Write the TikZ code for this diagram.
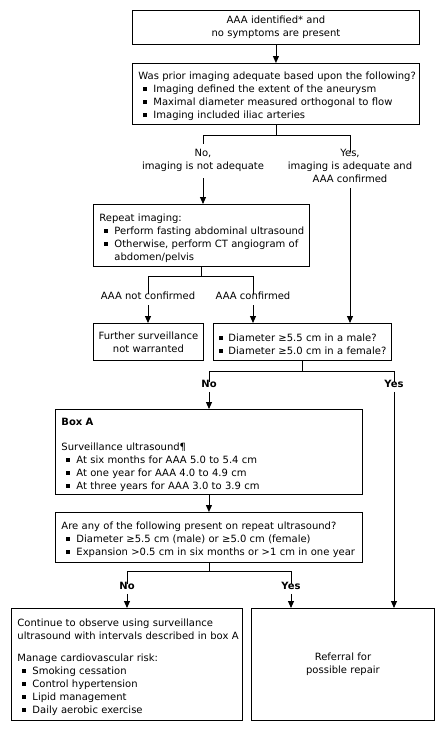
\documentclass[tikz,border=0pt]{standalone}
\usepackage{fontspec}
\setmainfont{DejaVu Sans}
\usetikzlibrary{arrows.meta}
\setlength{\parindent}{0pt}
\newcommand\ttl[1]{\par\mbox{#1}}
\newcommand\bul[1]{\par\mbox{\hspace*{5pt}\makebox[10pt][l]{\rule[1.8pt]{3.8pt}{3.8pt}}#1}}
\newcommand\bulz[1]{\par\mbox{\makebox[9pt][l]{\rule[1.8pt]{3.8pt}{3.8pt}}#1}}
\newcommand\cnt[1]{\par\mbox{\hspace*{15pt}#1}}
\begin{document}
\begin{tikzpicture}[x=1pt,y=-1pt,
 font=\fontsize{10}{13}\selectfont,
 bx/.style 2 args={draw, line width=0.9pt, anchor=north west, inner xsep=6pt, inner ysep=0pt, text width=#1, minimum height=#2, align=left},
 cbx/.style 2 args={draw, line width=0.9pt, anchor=north west, inner xsep=4pt, inner ysep=0pt, text width=#1, minimum height=#2, align=center},
 lbl/.style={inner sep=1pt, align=center},
 blbl/.style={lbl, font=\fontsize{10}{13}\selectfont\bfseries},
 con/.style={line width=0.9pt},
 arr/.style={con, -{Triangle[width=6pt,length=7pt]}}]
\path[use as bounding box, fill=white] (0,0) rectangle (445,731);

% boxes
\node[cbx={279pt}{34pt}] (b1) at (132,10) {AAA identified* and\\no symptoms are present};
\node[bx={275pt}{61pt}] (b2) at (132,63) {\ttl{Was prior imaging adequate based upon the following?}
 \bul{Imaging defined the extent of the aneurysm}
 \bul{Maximal diameter measured orthogonal to flow}
 \bul{Imaging included iliac arteries}};
\node[bx={204pt}{62pt}] (b3) at (93,204) {\ttl{Repeat imaging:}
 \bul{Perform fasting abdominal ultrasound}
 \bul{Otherwise, perform CT angiogram of}
 \cnt{abdomen/pelvis}};
\node[cbx={102pt}{37pt}] (b4) at (93,323) {Further surveillance\\not warranted};
\node[bx={166pt}{37pt}] (b5) at (213,323) {\bulz{Diameter ≥5.5 cm in a male?}
 \bulz{Diameter ≥5.0 cm in a female?}};
\node[bx={295pt}{85pt}] (bA) at (55,409) {\ttl{\textbf{Box A}}\par\vspace{12pt}
 \ttl{Surveillance ultrasound¶}
 \bul{At six months for AAA 5.0 to 5.4 cm}
 \bul{At one year for AAA 4.0 to 4.9 cm}
 \bul{At three years for AAA 3.0 to 3.9 cm}};
\node[bx={295pt}{50pt}] (b6) at (55,512) {\ttl{Are any of the following present on repeat ultrasound?}
 \bul{Diameter ≥5.5 cm (male) or ≥5.0 cm (female)}
 \bul{Expansion >0.5 cm in six months or >1 cm in one year}};
\node[bx={219pt}{112pt}] (bL) at (11,608) {\ttl{Continue to observe using surveillance}
 \ttl{ultrasound with intervals described in box A}\par\vspace{9pt}
 \ttl{Manage cardiovascular risk:}
 \bul{Smoking cessation}
 \bul{Control hypertension}
 \bul{Lipid management}
 \bul{Daily aerobic exercise}};
\node[cbx={175pt}{112pt}] (bR) at (251,608) {Referral for\\possible repair};

% labels
\node[lbl] (l1n) at (203,160) {No,\\imaging is not adequate};
\node[lbl] (l1y) at (350,166) {Yes,\\imaging is adequate and\\AAA confirmed};
\node[lbl] (l2n) at (148,296) {AAA not confirmed};
\node[lbl] (l2y) at (253,296) {AAA confirmed};
\node[blbl] (l3n) at (209,384) {No};
\node[blbl] (l3y) at (394,384) {Yes};
\node[blbl] (l4n) at (127,586) {No};
\node[blbl] (l4y) at (291,586) {Yes};

% connectors
\draw[arr] (b1.south) -- (b1.south |- b2.north);
\draw[con] (b2.south) -- ++(0,11) coordinate (j1);
\draw[con] (l1n.north) ++(0,-4) |- (j1) -| ([yshift=-4pt]l1y.north);
\draw[arr, shorten <=6pt] (l1n.south) -- (l1n.south |- b3.north);
\draw[arr, shorten <=4pt] (l1y.south) -- (l1y.south |- b5.north);

\draw[con] (b3.south) -- ++(0,10) coordinate (j2);
\draw[con] ([yshift=-3pt]l2n.north) |- (j2) -| ([yshift=-3pt]l2y.north);
\draw[arr, shorten <=4pt] (l2n.south) -- (l2n.south |- b4.north);
\draw[arr, shorten <=4pt] (l2y.south) -- (l2y.south |- b5.north);

\draw[con] (b5.south) -- ++(0,11) coordinate (j3);
\draw[con] ([yshift=-3pt]l3n.north) |- (j3) -| ([yshift=-3pt]l3y.north);
\draw[arr, shorten <=3pt] (l3n.south) -- (l3n.south |- bA.north);
\draw[arr, shorten <=3pt] (l3y.south) -- (l3y.south |- bR.north);

\draw[arr] (bA.south) -- (bA.south |- b6.north);
\draw[con] (b6.south) -- ++(0,9) coordinate (j4);
\draw[con] ([yshift=-3pt]l4n.north) |- (j4) -| ([yshift=-3pt]l4y.north);
\draw[arr, shorten <=3pt] (l4n.south) -- (l4n.south |- bL.north);
\draw[arr, shorten <=3pt] (l4y.south) -- (l4y.south |- bR.north);
\end{tikzpicture}
\end{document}
